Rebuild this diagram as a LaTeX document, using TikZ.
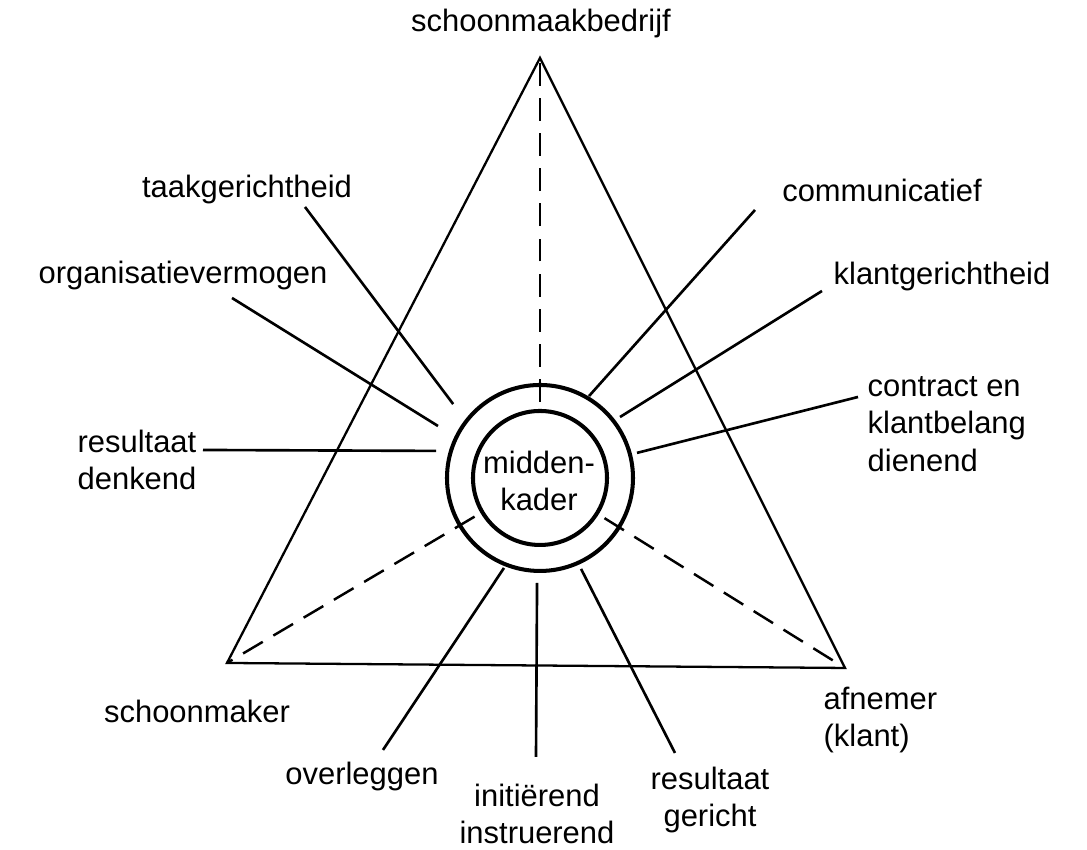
\documentclass[tikz,border=0pt]{standalone}
\usepackage{fontspec}
\setmainfont{Liberation Sans}
\usetikzlibrary{calc}

\tikzset{
  lbl/.style={font=\fontsize{8.8}{10.7}\selectfont, align=center, inner sep=0pt},
  ring/.style={circle, draw, line width=1.15pt, inner sep=0pt},
  spoke/.style={line width=0.75pt},
  axis/.style={line width=0.7pt, dash pattern=on 6.5pt off 3.5pt}
}

\begin{document}
\begin{tikzpicture}
  \useasboundingbox (0,0) rectangle (10.87,8.5);

  % corners of the triangle
  \coordinate (top) at (5.40,7.92);
  \coordinate (left) at (2.27,1.87);
  \coordinate (right) at (8.45,1.82);
  \draw[line width=0.65pt] (top) -- (left) -- (right) -- cycle;

  % centre rings
  \coordinate (mid) at (5.40,3.72);
  \node[ring, minimum size=1.86cm] (outer) at (mid) {};
  \node[ring, minimum size=1.34cm] (inner) at (mid) {};
  \node[lbl] (kader) at (5.39,3.69) {midden-\\kader};

  % dashed axes from the rings out to the corners
  \foreach \v in {top,left,right}
    \draw[axis] ($(mid)!0.76cm!(\v)$) -- (\v);

  % corner labels
  \node[lbl] (bedrijf) at (5.41,8.26) {schoonmaakbedrijf};
  \node[lbl] (maker) at (1.97,1.39) {schoonmaker};
  \node[lbl, align=left, anchor=west] (afnemer) at (8.23,1.30) {afnemer\\(klant)};

  % competence labels
  \node[lbl] (taak) at (2.47,6.60) {taakgerichtheid};
  \node[lbl] (org) at (1.83,5.74) {organisatievermogen};
  \node[lbl] (denk) at (1.37,3.90) {resultaat\\denkend};
  \node[lbl] (comm) at (8.82,6.60) {communicatief};
  \node[lbl] (klant) at (9.42,5.73) {klantgerichtheid};
  \node[lbl, align=left, anchor=west] (contract) at (8.67,4.26) {contract en\\klantbelang\\dienend};
  \node[lbl] (overleg) at (3.62,0.73) {overleggen};
  \node[lbl] (init) at (5.37,0.36) {initiërend\\instruerend};
  \node[lbl] (gericht) at (7.10,0.50) {resultaat\\gericht};

  % spokes: name/angle/radius/far end
  \foreach \n/\ang/\rad/\far in {
      taak/139.6/1.14/{3.05,6.43},
      org/153.0/1.145/{2.32,5.52},
      denk/165.4/1.074/{2.03,4.00},
      comm/59.1/0.955/{7.55,6.40},
      klant/37.3/1.006/{8.22,5.59},
      contract/14.5/1.002/{8.58,4.53},
      overleg/248.2/0.969/{3.83,1.00},
      init/268.4/1.05/{5.36,0.93},
      gericht/294.3/0.998/{6.75,0.97}} {
    \coordinate (\n-in) at ($(mid)+(\ang:\rad)$);
    \coordinate (\n-out) at (\far);
    \draw[spoke] (\n-in) -- (\n-out);
  }
\end{tikzpicture}
\end{document}
